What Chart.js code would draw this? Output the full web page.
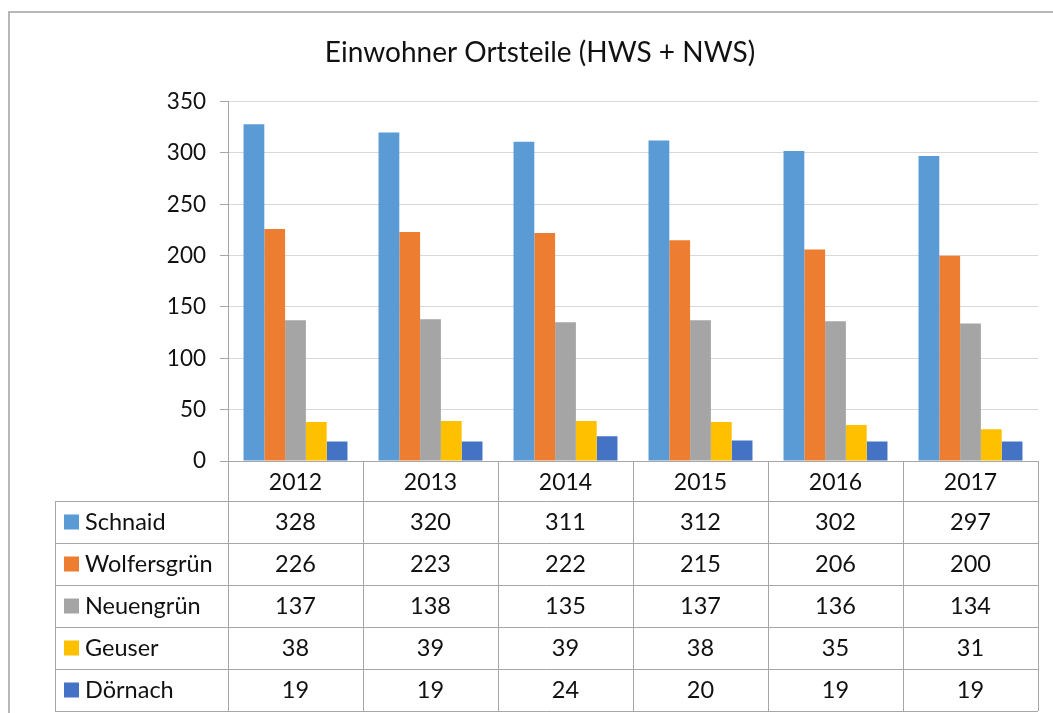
<!DOCTYPE html>
<html>
<head>
<meta charset="utf-8">
<script src="https://cdn.jsdelivr.net/npm/chart.js@4/dist/chart.umd.min.js"></script>
<style>
    html, body { margin: 0; padding: 0; background: #fff; }
    #wrap { width: 1053px; height: 713px; }
</style>
</head>
<body>
<div id="wrap"><canvas id="ortsteileChart" width="1053" height="713"></canvas></div>
<script>
const years = ['2012', '2013', '2014', '2015', '2016', '2017'];
const schnaid = [328, 320, 311, 312, 302, 297];
const wolfersgruen = [226, 223, 222, 215, 206, 200];
const neuengruen = [137, 138, 135, 137, 136, 134];
const geuser = [38, 39, 39, 38, 35, 31];
const doernach = [19, 19, 24, 20, 19, 19];
const yTicks = [0, 50, 100, 150, 200, 250, 300, 350];

const seriesNames = ['Schnaid', 'Wolfersgrün', 'Neuengrün', 'Geuser', 'Dörnach'];
const seriesData = [schnaid, wolfersgruen, neuengruen, geuser, doernach];
const seriesColors = ['#5B9BD5', '#ED7D31', '#A5A5A5', '#FFC000', '#4472C4'];

const FONT = 'Lato, Calibri, "Open Sans", sans-serif';
const LINE = '#a6a6a6';

// draws the outer frame and the data table under the x axis
const dataTablePlugin = {
    id: 'dataTable',
    afterDraw(chart) {
        const ctx = chart.ctx;
        const x = chart.scales.x;
        const area = chart.chartArea;
        const step = x.width / years.length;
        const tableLeft = 55;
        const headTop = area.bottom;
        const rowsTop = area.bottom + 40;
        const rowH = 42;
        const tableBottom = rowsTop + rowH * seriesNames.length;

        ctx.save();
        // outer frame (runs off the right/bottom of the picture)
        ctx.strokeStyle = '#a0a0a0';
        ctx.lineWidth = 1.5;
        ctx.beginPath();
        ctx.moveTo(9, 760);
        ctx.lineTo(9, 12);
        ctx.lineTo(1100, 12);
        ctx.stroke();

        ctx.strokeStyle = LINE;
        ctx.lineWidth = 1;
        ctx.beginPath();
        // column separators
        for (let i = 0; i <= years.length; i++) {
            const px = Math.round(x.getPixelForValue(i) - step / 2) + 0.5;
            ctx.moveTo(px, headTop);
            ctx.lineTo(px, tableBottom);
        }
        // left edge of the row labels
        ctx.moveTo(tableLeft + 0.5, rowsTop);
        ctx.lineTo(tableLeft + 0.5, tableBottom);
        // row lines
        for (let r = 0; r <= seriesNames.length; r++) {
            const py = Math.round(rowsTop + r * rowH) + 0.5;
            ctx.moveTo(tableLeft, py);
            ctx.lineTo(area.right, py);
        }
        ctx.stroke();

        ctx.font = '23.5px ' + FONT;
        ctx.textBaseline = 'middle';
        seriesNames.forEach((name, r) => {
            const cy = rowsTop + r * rowH + rowH / 2;
            ctx.fillStyle = seriesColors[r];
            ctx.fillRect(64, cy - 7.5, 15, 15);
            ctx.fillStyle = '#111';
            ctx.textAlign = 'left';
            ctx.fillText(name, 85, cy);
            ctx.textAlign = 'center';
            seriesData[r].forEach((v, i) => {
                ctx.fillText(String(v), x.getPixelForValue(i), cy);
            });
        });
        ctx.restore();
    }
};

const ctx = document.getElementById('ortsteileChart').getContext('2d');
new Chart(ctx, {
    type: 'bar',
    data: {
        labels: years,
        datasets: seriesNames.map((name, i) => ({
            label: name,
            data: seriesData[i],
            backgroundColor: seriesColors[i],
            borderWidth: 0,
            categoryPercentage: 0.77,
            barPercentage: 1.0
        }))
    },
    options: {
        responsive: false,
        animation: false,
        layout: { padding: { left: 42, right: 15, top: 36, bottom: 212 } },
        plugins: {
            legend: { display: false },
            tooltip: { enabled: false },
            title: {
                display: true,
                text: 'Einwohner Ortsteile (HWS + NWS)',
                color: '#111',
                font: { family: FONT, size: 28, weight: 'normal' },
                padding: { top: 0, bottom: 32 }
            }
        },
        scales: {
            x: {
                grid: { display: false },
                border: { display: true, color: LINE, width: 1 },
                ticks: { color: '#111', font: { family: FONT, size: 23 }, padding: 0 },
                afterFit(scale) { scale.height = 40; }
            },
            y: {
                min: 0,
                max: 350,
                afterBuildTicks(scale) { scale.ticks = yTicks.map(v => ({ value: v })); },
                grid: { color: '#d9d9d9', tickLength: 8, tickColor: LINE },
                border: { display: true, color: LINE, width: 1 },
                ticks: { color: '#111', font: { family: FONT, size: 22.5 }, padding: 14 },
                afterFit(scale) { scale.width = 186; }
            }
        }
    },
    plugins: [dataTablePlugin]
});
</script>
</body>
</html>
